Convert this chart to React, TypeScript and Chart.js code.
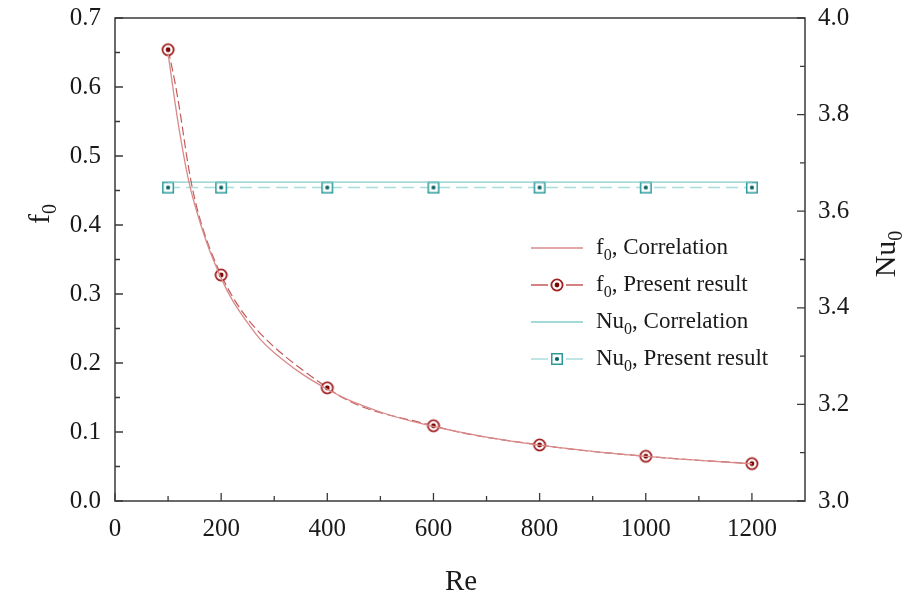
import React, { useEffect, useRef } from "react";
import { Chart, registerables } from "chart.js";

Chart.register(...registerables);

// Friction factor: correlation curve and present results
const reCorrelation = [100, 125, 150, 200, 250, 300, 400, 500, 600, 700, 800, 900, 1000, 1100, 1200];
const f0Correlation = [0.648, 0.52, 0.43, 0.323, 0.258, 0.215, 0.162, 0.129, 0.108, 0.0925, 0.081, 0.072, 0.0648, 0.059, 0.054];
const rePresent = [100, 200, 400, 600, 800, 1000, 1200];
const f0Present = [0.654, 0.3275, 0.164, 0.109, 0.0812, 0.0648, 0.0541];

// Nusselt number: correlation and present results
const reNuCorrelation = [100, 1200];
const nu0Correlation = [3.66, 3.66];
const nu0Present = [3.649, 3.649, 3.649, 3.649, 3.649, 3.649, 3.649];

// Axis ticks
const reTicks = [0, 200, 400, 600, 800, 1000, 1200];
const reMinorTicks = [100, 300, 500, 700, 900, 1100];
const f0Ticks = [0, 0.1, 0.2, 0.3, 0.4, 0.5, 0.6, 0.7];
const f0MinorTicks = [0.05, 0.15, 0.25, 0.35, 0.45, 0.55, 0.65];
const nu0Ticks = [3.0, 3.2, 3.4, 3.6, 3.8, 4.0];
const nu0MinorTicks = [3.1, 3.3, 3.5, 3.7, 3.9];

// Legend entries: [base, subscript, rest]
const legendLabels: [string, string, string][] = [
  ["f", "0", ", Correlation"],
  ["f", "0", ", Present result"],
  ["Nu", "0", ", Correlation"],
  ["Nu", "0", ", Present result"],
];

const SERIF = '"Liberation Serif", "Times New Roman", serif';
const RED_LINE = "#d98a8a";
const RED_DASH = "#c45a5a";
const TEAL_LINE = "#86cccc";
const TEAL_DASH = "#a9dcdc";
const AXIS = "#3a3a3a";

function ringMarker(): HTMLCanvasElement {
  const c = document.createElement("canvas");
  c.width = 16;
  c.height = 16;
  const g = c.getContext("2d")!;
  g.beginPath();
  g.arc(8, 8, 5.6, 0, Math.PI * 2);
  g.fillStyle = "#ffffff";
  g.fill();
  g.lineWidth = 1.8;
  g.strokeStyle = "#a01f1f";
  g.stroke();
  g.beginPath();
  g.arc(8, 8, 2.4, 0, Math.PI * 2);
  g.fillStyle = "#780404";
  g.fill();
  return c;
}

function squareMarker(): HTMLCanvasElement {
  const c = document.createElement("canvas");
  c.width = 14;
  c.height = 14;
  const g = c.getContext("2d")!;
  g.fillStyle = "#ffffff";
  g.fillRect(1.5, 1.5, 11, 11);
  g.lineWidth = 1.5;
  g.strokeStyle = "#2a9a9a";
  g.strokeRect(1.75, 1.75, 10.5, 10.5);
  g.beginPath();
  g.arc(7, 7, 2.1, 0, Math.PI * 2);
  g.fillStyle = "#0b6464";
  g.fill();
  return c;
}

// Writes base text followed by a lowered subscript and trailing text
function drawSubText(
  ctx: CanvasRenderingContext2D,
  base: string,
  sub: string,
  rest: string,
  x: number,
  y: number,
  size: number
) {
  const subSize = Math.round(size * 0.68);
  ctx.font = `${size}px ${SERIF}`;
  ctx.fillText(base, x, y);
  let cx = x + ctx.measureText(base).width;
  ctx.font = `${subSize}px ${SERIF}`;
  ctx.fillText(sub, cx, y + size * 0.24);
  cx += ctx.measureText(sub).width;
  ctx.font = `${size}px ${SERIF}`;
  ctx.fillText(rest, cx, y);
}

function subTextWidth(ctx: CanvasRenderingContext2D, base: string, sub: string, rest: string, size: number) {
  const subSize = Math.round(size * 0.68);
  ctx.font = `${size}px ${SERIF}`;
  let w = ctx.measureText(base).width + ctx.measureText(rest).width;
  ctx.font = `${subSize}px ${SERIF}`;
  w += ctx.measureText(sub).width;
  return w;
}

export default function App() {
  const canvasRef = useRef<HTMLCanvasElement | null>(null);

  useEffect(() => {
    const canvas = canvasRef.current;
    if (!canvas) return;
    const ring = ringMarker();
    const square = squareMarker();

    const framePlugin = {
      id: "frameAndAnnotations",
      afterDatasetsDraw(chart: any) {
        const ctx: CanvasRenderingContext2D = chart.ctx;
        const { left, right, top, bottom } = chart.chartArea;
        const xs = chart.scales.x;
        const ys = chart.scales.y;
        const y2 = chart.scales.y2;
        ctx.save();
        // frame
        ctx.strokeStyle = AXIS;
        ctx.lineWidth = 1.5;
        ctx.strokeRect(left, top, right - left, bottom - top);
        // inward ticks
        ctx.lineWidth = 1.3;
        ctx.beginPath();
        const major = 8;
        const minor = 5;
        reTicks.forEach((v) => {
          const px = xs.getPixelForValue(v);
          ctx.moveTo(px, bottom);
          ctx.lineTo(px, bottom - major);
        });
        reMinorTicks.forEach((v) => {
          const px = xs.getPixelForValue(v);
          ctx.moveTo(px, bottom);
          ctx.lineTo(px, bottom - minor);
        });
        f0Ticks.forEach((v) => {
          const py = ys.getPixelForValue(v);
          ctx.moveTo(left, py);
          ctx.lineTo(left + major, py);
        });
        f0MinorTicks.forEach((v) => {
          const py = ys.getPixelForValue(v);
          ctx.moveTo(left, py);
          ctx.lineTo(left + minor, py);
        });
        nu0Ticks.forEach((v) => {
          const py = y2.getPixelForValue(v);
          ctx.moveTo(right, py);
          ctx.lineTo(right - major, py);
        });
        nu0MinorTicks.forEach((v) => {
          const py = y2.getPixelForValue(v);
          ctx.moveTo(right, py);
          ctx.lineTo(right - minor, py);
        });
        ctx.stroke();

        // axis titles
        ctx.fillStyle = "#1a1a1a";
        ctx.textBaseline = "alphabetic";
        ctx.textAlign = "left";
        ctx.font = `29px ${SERIF}`;
        const reW = ctx.measureText("Re").width;
        ctx.fillText("Re", (left + right) / 2 - reW / 2 + 1, 590);

        const titleSize = 30;
        // f0 (left, rotated)
        ctx.save();
        const fW = subTextWidth(ctx, "f", "0", "", titleSize);
        ctx.translate(49, 214);
        ctx.rotate(-Math.PI / 2);
        drawSubText(ctx, "f", "0", "", -fW / 2, 0, titleSize);
        ctx.restore();
        // Nu0 (right, rotated)
        ctx.save();
        const nW = subTextWidth(ctx, "Nu", "0", "", titleSize);
        ctx.translate(895, 254);
        ctx.rotate(-Math.PI / 2);
        drawSubText(ctx, "Nu", "0", "", -nW / 2, 0, titleSize);
        ctx.restore();

        // legend
        const lx0 = 531;
        const lx1 = 583;
        const mx = 557;
        const tx = 596;
        const rows = [248, 285, 322, 359];
        const samples = [
          { color: RED_LINE, marker: null as HTMLCanvasElement | null },
          { color: RED_DASH, marker: ring },
          { color: TEAL_LINE, marker: null },
          { color: TEAL_DASH, marker: square },
        ];
        samples.forEach((s, i) => {
          const ly = rows[i];
          ctx.strokeStyle = s.color;
          ctx.lineWidth = 1.3;
          ctx.beginPath();
          if (s.marker) {
            ctx.moveTo(lx0, ly);
            ctx.lineTo(lx0 + 17, ly);
            ctx.moveTo(lx1 - 17, ly);
            ctx.lineTo(lx1, ly);
          } else {
            ctx.moveTo(lx0, ly);
            ctx.lineTo(lx1, ly);
          }
          ctx.stroke();
          if (s.marker) {
            ctx.drawImage(s.marker, mx - s.marker.width / 2, ly - s.marker.height / 2);
          }
          ctx.fillStyle = "#1a1a1a";
          const [b, sb, r] = legendLabels[i];
          drawSubText(ctx, b, sb, r, tx, ly + 6, 23);
        });
        ctx.restore();
      },
    };

    const tickFont = { family: SERIF, size: 25 };

    const chart = new Chart(canvas, {
      type: "line",
      data: {
        datasets: [
          {
            label: "f0, Correlation",
            data: reCorrelation.map((x, i) => ({ x, y: f0Correlation[i] })),
            borderColor: RED_LINE,
            borderWidth: 1.3,
            pointRadius: 0,
            tension: 0.4,
            yAxisID: "y",
          },
          {
            label: "f0, Present result",
            data: rePresent.map((x, i) => ({ x, y: f0Present[i] })),
            borderColor: RED_DASH,
            borderWidth: 1.2,
            borderDash: [9, 4],
            pointStyle: ring,
            pointRadius: 6,
            tension: 0.4,
            yAxisID: "y",
          },
          {
            label: "Nu0, Correlation",
            data: reNuCorrelation.map((x, i) => ({ x, y: nu0Correlation[i] })),
            borderColor: TEAL_LINE,
            borderWidth: 1.3,
            pointRadius: 0,
            yAxisID: "y2",
          },
          {
            label: "Nu0, Present result",
            data: rePresent.map((x, i) => ({ x, y: nu0Present[i] })),
            borderColor: TEAL_DASH,
            borderWidth: 1.6,
            borderDash: [12, 6],
            pointStyle: square,
            pointRadius: 6,
            yAxisID: "y2",
          },
        ],
      },
      options: {
        animation: false,
        responsive: false,
        devicePixelRatio: 1,
        layout: { padding: { top: 18, left: 0, right: 0, bottom: 0 } },
        plugins: {
          legend: { display: false },
          tooltip: { enabled: false },
        },
        scales: {
          x: {
            type: "linear",
            min: 0,
            max: 1300,
            grid: { display: false, drawTicks: false },
            border: { display: false },
            afterBuildTicks: (s: any) => {
              s.ticks = reTicks.map((value) => ({ value }));
            },
            afterFit: (s: any) => {
              s.height = 93;
              s.paddingLeft = 0;
              s.paddingRight = 0;
            },
            ticks: {
              color: "#1a1a1a",
              font: tickFont,
              padding: 13,
              maxRotation: 0,
              callback: (v: any) => String(v),
            },
          },
          y: {
            type: "linear",
            position: "left",
            min: 0,
            max: 0.7,
            grid: { display: false, drawTicks: false },
            border: { display: false },
            afterBuildTicks: (s: any) => {
              s.ticks = f0Ticks.map((value) => ({ value }));
            },
            afterFit: (s: any) => {
              s.width = 115;
              s.paddingTop = 0;
              s.paddingBottom = 0;
            },
            ticks: {
              color: "#1a1a1a",
              font: tickFont,
              padding: 14,
              callback: (v: any) => Number(v).toFixed(1),
            },
          },
          y2: {
            type: "linear",
            position: "right",
            min: 3.0,
            max: 4.0,
            grid: { display: false, drawTicks: false },
            border: { display: false },
            afterBuildTicks: (s: any) => {
              s.ticks = nu0Ticks.map((value) => ({ value }));
            },
            afterFit: (s: any) => {
              s.width = 102;
              s.paddingTop = 0;
              s.paddingBottom = 0;
            },
            ticks: {
              color: "#1a1a1a",
              font: tickFont,
              padding: 13,
              callback: (v: any) => Number(v).toFixed(1),
            },
          },
        },
      } as any,
      plugins: [framePlugin],
    });

    return () => chart.destroy();
  }, []);

  return (
    <div style={{ position: "fixed", left: 0, top: 0, width: 907, height: 594, background: "#ffffff" }}>
      <canvas ref={canvasRef} width={907} height={594} style={{ display: "block" }} />
    </div>
  );
}
